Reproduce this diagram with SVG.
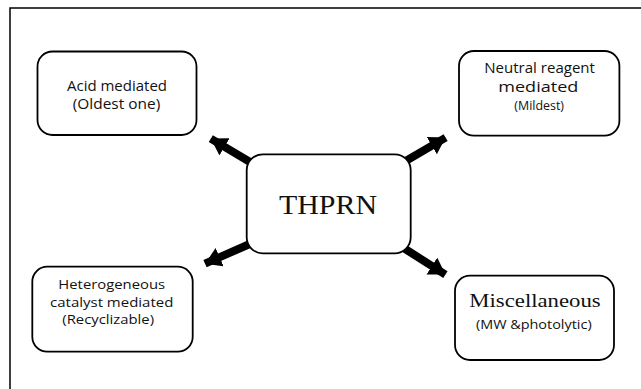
<svg xmlns="http://www.w3.org/2000/svg" width="641" height="389" viewBox="0 0 641 389">
<style>
.box{fill:#fff;stroke:#000;stroke-width:1.8}
.s{font-family:"Open Sans","Noto Sans",sans-serif;fill:#111;text-anchor:middle}
.t{font-family:"Liberation Serif","Times New Roman",serif;fill:#111;text-anchor:middle}
.arr{stroke:#000;stroke-width:8;fill:none;marker-end:url(#ah)}
</style>
<defs>
<marker id="ah" markerUnits="userSpaceOnUse" markerWidth="17" markerHeight="21" refX="16" refY="10" orient="auto">
<path d="M0,0 L16,10 L0,20 z" fill="#000"/>
</marker>
</defs>
<rect width="641" height="389" fill="#fff"/>
<path d="M10,389 V8 H641" fill="none" stroke="#000" stroke-width="1.5"/>
<g id="connectors">
<line class="arr" x1="250" y1="162" x2="210.8" y2="138.6"/>
<line class="arr" x1="404" y1="162" x2="445.6" y2="137.6"/>
<line class="arr" x1="252" y1="243" x2="205" y2="263.7"/>
<line class="arr" x1="402" y1="247" x2="445.4" y2="274.6"/>
</g>
<g id="center">
<rect class="box" x="246.7" y="154.3" width="164" height="99" rx="16"/>
<text class="t" x="328" y="214" font-size="27" textLength="98" lengthAdjust="spacingAndGlyphs">THPRN</text>
</g>
<g id="acid">
<rect class="box" x="37.5" y="51.5" width="159" height="83.5" rx="15"/>
<text class="s" x="117" y="90.5" font-size="14" textLength="100" lengthAdjust="spacingAndGlyphs">Acid mediated</text>
<text class="s" x="116.5" y="108.5" font-size="14" textLength="87.5" lengthAdjust="spacingAndGlyphs">(Oldest one)</text>
</g>
<g id="neutral">
<rect class="box" x="459" y="51" width="160.4" height="84.7" rx="15"/>
<text class="s" x="539.6" y="73.3" font-size="14" textLength="110.7" lengthAdjust="spacingAndGlyphs">Neutral reagent</text>
<text class="s" x="538.3" y="91.5" font-size="14" textLength="80" lengthAdjust="spacingAndGlyphs">mediated</text>
<text class="s" x="539.2" y="110" font-size="12" textLength="49.7" lengthAdjust="spacingAndGlyphs">(Mildest)</text>
</g>
<g id="hetero">
<rect class="box" x="32.3" y="266.7" width="160.4" height="85" rx="15"/>
<text class="s" x="111.7" y="289.3" font-size="13.5" textLength="106.7" lengthAdjust="spacingAndGlyphs">Heterogeneous</text>
<text class="s" x="111.7" y="306.7" font-size="13.5" textLength="123.3" lengthAdjust="spacingAndGlyphs">catalyst mediated</text>
<text class="s" x="108.2" y="323.5" font-size="12" textLength="91.7" lengthAdjust="spacingAndGlyphs">(Recyclizable)</text>
</g>
<g id="misc">
<rect class="box" x="455" y="275.7" width="159" height="84.3" rx="15"/>
<text class="t" x="535" y="307.3" font-size="19" textLength="131.3" lengthAdjust="spacingAndGlyphs">Miscellaneous</text>
<text class="s" x="533.8" y="328.5" font-size="12.5" textLength="115.7" lengthAdjust="spacingAndGlyphs">(MW &amp;photolytic)</text>
</g>
</svg>
